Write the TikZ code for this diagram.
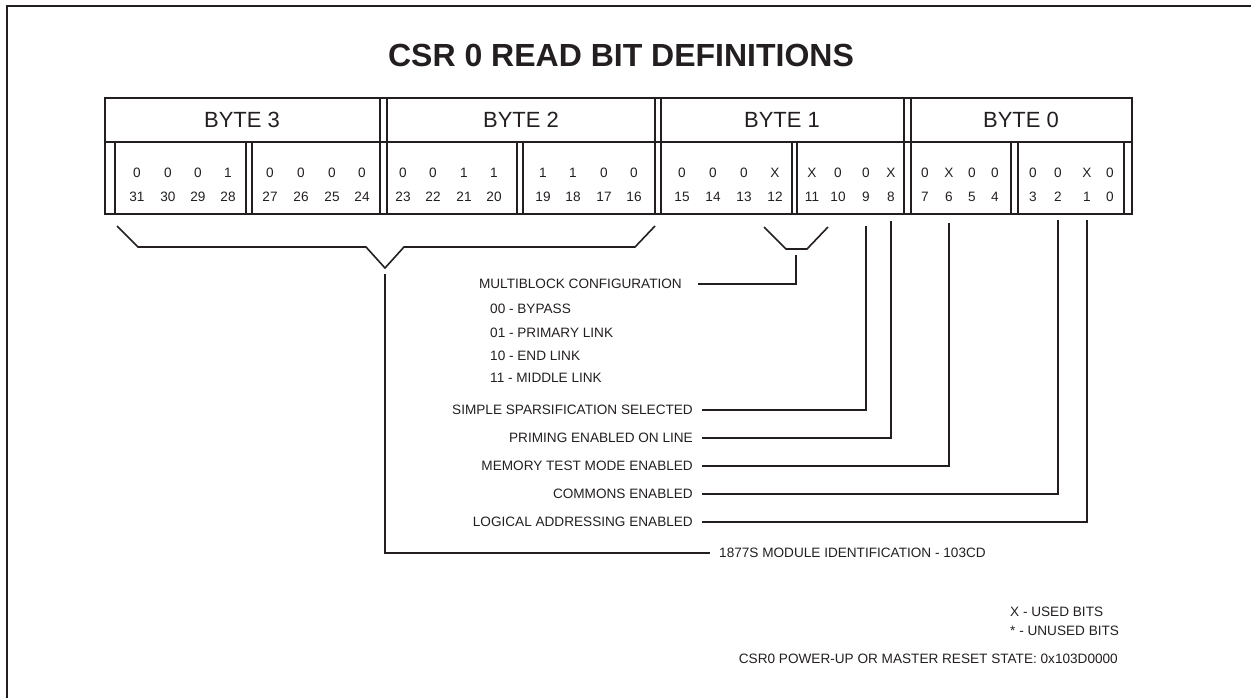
\documentclass[tikz,border=0pt]{standalone}
\usepackage{fontspec}
\setmainfont{Liberation Sans}
\usepackage{tikz}

\definecolor{ink}{HTML}{231F20}
\tikzset{
  txt/.style={font=\fontsize{13.6}{16}\selectfont,text=ink,inner sep=0pt},
  lbl/.style={txt,anchor=east,inner xsep=9pt},
  wire/.style={line width=1.6pt,draw=ink},
}

\begin{document}
\begin{tikzpicture}[x=1pt,y=-1pt]
\useasboundingbox (0,0) rectangle (1251,698);
\draw[line width=2.5pt,ink](7,698) -- (7,6) -- (1251,6);

\node [font=\fontsize{32}{38}\selectfont\bfseries,text=ink] (title) at(621,55){CSR 0 READ BIT DEFINITIONS};

% register box
\draw[wire](105,98) rectangle (1132,214);
\draw[wire](105,142) -- (1132,142);
\foreach \x in {380,387,655,661,904,911}
  \draw[wire](\x,98) -- (\x,214);
\foreach \x in {115,246,252,517,523,792,797,1011,1018,1124}
  \draw[wire](\x,142) -- (\x,214);

\node [txt,font=\fontsize{22}{26}\selectfont] (byte3) at(242,120){BYTE 3};
\node [txt,font=\fontsize{22}{26}\selectfont] (byte2) at(521,120){BYTE 2};
\node [txt,font=\fontsize{22}{26}\selectfont] (byte1) at(782,120){BYTE 1};
\node [txt,font=\fontsize{22}{26}\selectfont] (byte0) at(1021,120){BYTE 0};

\foreach \b/\x/\v in {31/137/0,30/168/0,29/198/0,28/228/1,27/270/0,26/301/0,25/332/0,24/362/0,
  23/403/0,22/433/0,21/464/1,20/494/1,19/543/1,18/573/1,17/604/0,16/634/0,
  15/682/0,14/713/0,13/744/0,12/775/X,11/812/X,10/838/0,9/866/0,8/891/X,
  7/925/0,6/949/X,5/972/0,4/995/0,3/1033/0,2/1058/0,1/1087/X,0/1110/0}{
  \node [txt] (v\b) at(\x,173){\v};
  \node [txt] (n\b) at(\x,197){\b};
}

% brackets
\draw[wire](117,226) -- (138,247) -- (366,247) -- (385,268) -- (404,247) -- (635,247) -- (655,226);
\draw[wire](764,227) -- (786,249) -- (807,249) -- (828,227);

\node [lbl,inner xsep=16pt] (multi) at(698,284){MULTIBLOCK CONFIGURATION};
\node [txt,anchor=west] (bypass) at(490,309){00 - BYPASS};
\node [txt,anchor=west] (primary) at(490,333){01 - PRIMARY LINK};
\node [txt,anchor=west] (endlink) at(490,356){10 - END LINK};
\node [txt,anchor=west] (middle) at(490,378){11 - MIDDLE LINK};

\node [lbl] (sparse) at(702,410){SIMPLE SPARSIFICATION SELECTED};
\node [lbl] (prime) at(702,438){PRIMING ENABLED ON LINE};
\node [lbl] (memtest) at(702,466){MEMORY TEST MODE ENABLED};
\node [lbl] (commons) at(702,494){COMMONS ENABLED};
\node [lbl] (logical) at(702,522){LOGICAL ADDRESSING ENABLED};
\node [txt,anchor=west,inner xsep=9pt] (ident) at(710,553){1877S MODULE IDENTIFICATION - 103CD};

\coordinate (tm) at(796,255);
\coordinate (t9) at(866,226);
\coordinate (t8) at(891,221);
\coordinate (t6) at(949,223);
\coordinate (t2) at(1058,220);
\coordinate (t1) at(1087,220);
\coordinate (tid) at(385,274);

\draw[wire](tm) |- (multi.east);
\draw[wire](t9) |- (sparse.east);
\draw[wire](t8) |- (prime.east);
\draw[wire](t6) |- (memtest.east);
\draw[wire](t2) |- (commons.east);
\draw[wire](t1) |- (logical.east);
\draw[wire](tid) |- (ident.west);

% legend
\node [txt,anchor=west] (used) at(1010,612){X - USED BITS};
\node [txt,anchor=west] (unused) at(1010,631){* - UNUSED BITS};
\node [txt,anchor=east] (reset) at(1118,659){CSR0 POWER-UP OR MASTER RESET STATE: 0x103D0000};

\end{tikzpicture}
\end{document}
